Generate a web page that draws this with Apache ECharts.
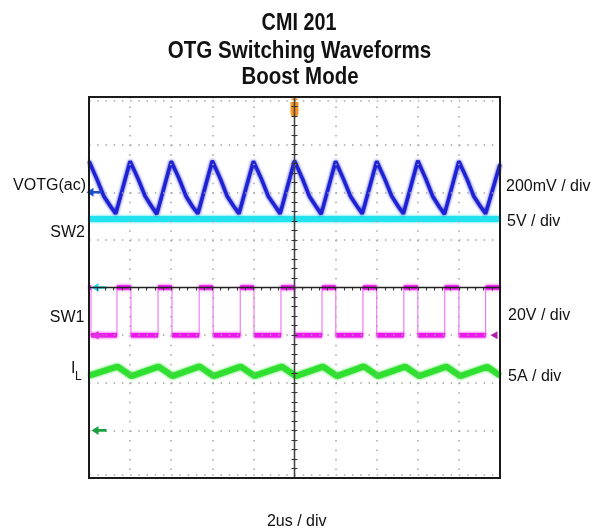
<!DOCTYPE html>
<html><head><meta charset="utf-8">
<script src="https://cdn.jsdelivr.net/npm/echarts@6/dist/echarts.min.js"></script>
<style>html,body{margin:0;padding:0;background:#fff}#c{width:595px;height:531px}</style>
</head><body><div id="c"></div>
<script>
// ---- scope settings ----
const timeMin = -10, timeMax = 10;          // us, trigger at 0 (2us / div)
const divMin = -4, divMax = 4;              // vertical divisions
const titleLines = ['CMI 201', 'OTG Switching Waveforms', 'Boost Mode'];
const chNames = ['VOTG(ac)', 'SW2', 'SW1', 'I'];
const chScaleLabels = ['200mV / div', '5V / div', '20V / div', '5A / div'];
const timeLabel = '2us / div';
const chPerDiv = [200, 5, 20, 5];            // mV, V, V, A per division
const chOffsetDiv = [2, 0, -1, -3];          // ground-reference markers

// ---- VOTG(ac), mV ----
const votgTime = [-10,-9.6,-9.27,-8.95,-8.7, -8,-7.6,-7.27,-6.95,-6.7, -6,-5.6,-5.27,-4.95,-4.7,
  -4,-3.6,-3.27,-2.95,-2.7, -2,-1.6,-1.27,-0.95,-0.7, 0,0.4,0.73,1.05,1.3, 2,2.4,2.73,3.05,3.3,
  4,4.4,4.73,5.05,5.3, 6,6.4,6.73,7.05,7.3, 8,8.4,8.73,9.05,9.3, 10];
const votgMv = [130,52,-18,-60,-90, 130,54,-16,-60,-92, 130,54,-18,-62,-90,
  132,55,-18,-60,-90, 130,54,-18,-58,-90, 132,54,-18,-60,-92, 130,52,-18,-60,-90,
  130,54,-16,-60,-90, 132,54,-18,-62,-92, 130,54,-18,-60,-90, 118];

// ---- SW2, V ----
const sw2Time = [-10, 10];
const sw2V = [7.2, 7.2];

// ---- SW1, V (edge times) ----
const sw1Time = [-10,-9.9,-8.64,-7.96,-6.64,-5.96,-4.64,-3.96,-2.64,-1.97,-0.66,0.02,1.34,2.01,3.33,4.0,5.32,6.0,7.31,8.0,9.3,10];
const sw1V    = [20,0,20,0,20,0,20,0,20,0,20,0,20,0,20,0,20,0,20,0,20,20];

// ---- IL, A ----
const ilTime = [-10,-8.62,-7.94,-6.62,-5.94,-4.62,-3.94,-2.62,-1.94,-0.62,0.06,1.38,2.06,3.38,4.06,5.38,6.06,7.38,8.06,9.38,10];
const ilA    = [5.75,6.7,5.7,6.7,5.7,6.72,5.7,6.7,5.72,6.7,5.7,6.7,5.7,6.72,5.7,6.7,5.7,6.7,5.7,6.68,5.75];

// ---- helpers ----
const toDiv = (vals, ch) => vals.map(v => chOffsetDiv[ch] + v / chPerDiv[ch]);
const pairs = (ts, ds) => ts.map((t, i) => [t, ds[i]]);
const sw1Div = toDiv(sw1V, 2);
const sw1Flats = [];
for (let i = 0; i < sw1Time.length - 1; i++) {
  sw1Flats.push([sw1Time[i], sw1Div[i]], [sw1Time[i + 1], sw1Div[i]], ['-', '-']);
}

const arrowPath = 'path://M0,5 L7,0 L7,3.5 L15,3.5 L15,6.5 L7,6.5 L7,10 Z';
const trigPath = 'path://M1,0 H9 V2 H1 Z M0,4 H10 V15 Q10,21 5,21 Q0,21 0,15 Z';
const colors = { votg: '#1e22d2', sw2: '#22e2ef', sw1: '#ee16ee', sw1edge: '#f57af5', il: '#30e030' };

function arrowMark(ch, color, off) {
  return { coord: [timeMin, chOffsetDiv[ch]], symbol: arrowPath, symbolSize: [15, 9],
           symbolOffset: [off, 0], itemStyle: { color } };
}

const LABEL_FONT = '16px "Liberation Sans", Arial, sans-serif';
const TITLE_FONT = 'bold 23px "Liberation Sans", Arial, sans-serif';
function txt(text, x, y, align, font, extra) {
  return Object.assign({ type: 'text', x, y, silent: true,
    style: { text, font: font || LABEL_FONT, fill: '#111', align: align || 'left', verticalAlign: 'middle' } }, extra || {});
}
const tickStyle = { color: '#333', width: 1 };

const chart = echarts.init(document.getElementById('c'), null, { renderer: 'canvas' });
chart.setOption({
  animation: false,
  backgroundColor: '#fff',
  grid: { left: 89, top: 97, width: 411, height: 381, show: true, z: 10, borderColor: '#1a1a1a', borderWidth: 2, backgroundColor: 'transparent' },
  xAxis: {
    type: 'value', min: timeMin, max: timeMax, interval: 2, z: 5,
    axisLine: { onZero: true, lineStyle: { color: '#222', width: 1.3 } },
    axisTick: { show: true, inside: false, length: 3, lineStyle: tickStyle },
    minorTick: { show: true, splitNumber: 5, length: 3, lineStyle: tickStyle },
    axisLabel: { show: false },
    splitLine: { show: true, lineStyle: { color: '#a4a4a4', width: 1.5, type: [1.5, 8.025] } }
  },
  yAxis: [{
    type: 'value', min: divMin, max: divMax, interval: 1, z: 5,
    axisLine: { onZero: true, lineStyle: { color: '#444', width: 1.3 } },
    axisTick: { show: true, inside: false, length: 3, lineStyle: tickStyle },
    minorTick: { show: true, splitNumber: 5, length: 3, lineStyle: tickStyle },
    axisLabel: { show: false },
    splitLine: { show: true, lineStyle: { color: '#a4a4a4', width: 1.5, type: [1.5, 6.72] } }
  }, {
    type: 'value', min: divMin, max: divMax, interval: 1, z: 5, position: 'left',
    axisLine: { onZero: true, onZeroAxisIndex: 0, lineStyle: { color: '#444', width: 1.3 } },
    axisTick: { show: true, inside: true, length: 3, lineStyle: tickStyle },
    minorTick: { show: true, splitNumber: 5, length: 3, lineStyle: tickStyle },
    axisLabel: { show: false }, splitLine: { show: false }
  }],
  series: [
    { name: 'SW2', type: 'line', data: pairs(sw2Time, toDiv(sw2V, 1)), showSymbol: false, silent: true, z: 3,
      lineStyle: { color: colors.sw2, width: 6, shadowBlur: 3, shadowColor: colors.sw2 },
      markLine: { silent: true, symbol: 'none', label: { show: false },
        lineStyle: { color: '#aaa', width: 1.5, type: [1.5, 6.72] },
        data: [{ yAxis: divMax - 0.07 }, { yAxis: divMin + 0.07 }] },
      markPoint: { silent: true, label: { show: false }, data: [
        { coord: [0, divMax], symbol: trigPath, symbolSize: [8, 19], symbolOffset: [0, 11], itemStyle: { color: '#f7941d' } },
        arrowMark(1, '#22d8f0', 10)
      ] } },
    { name: 'VOTG(ac)', type: 'line', data: pairs(votgTime, toDiv(votgMv, 0)), showSymbol: false, silent: true, z: 4,
      lineStyle: { color: colors.votg, width: 3.5, shadowBlur: 3, shadowColor: colors.votg },
      markPoint: { silent: true, label: { show: false }, data: [arrowMark(0, '#1a50d0', 5)] } },
    { name: 'SW1 edges', type: 'line', step: 'end', data: pairs(sw1Time, sw1Div), showSymbol: false, silent: true, z: 3,
      lineStyle: { color: colors.sw1edge, width: 1.2 } },
    { name: 'SW1', type: 'line', data: sw1Flats, showSymbol: false, silent: true, z: 3, connectNulls: false,
      lineStyle: { color: colors.sw1, width: 4.5, shadowBlur: 3, shadowColor: colors.sw1 },
      markPoint: { silent: true, label: { show: false }, data: [
        arrowMark(2, '#e030e0', 10),
        { coord: [timeMax, chOffsetDiv[2]], symbol: 'triangle', symbolRotate: 90, symbolSize: [8, 7], symbolOffset: [-6, 0], itemStyle: { color: '#b020b0' } },
        { coord: [timeMax, 0], symbol: 'rect', symbolSize: [7, 2], symbolOffset: [-7, 0], itemStyle: { color: '#d020d0' } }
      ] } },
    { name: 'IL', type: 'line', data: pairs(ilTime, toDiv(ilA, 3)), showSymbol: false, silent: true, z: 3,
      lineStyle: { color: colors.il, width: 6, shadowBlur: 3, shadowColor: colors.il },
      markPoint: { silent: true, label: { show: false }, data: [arrowMark(3, '#1aa040', 10)] } }
  ],
  graphic: [
    txt(titleLines[0], 299, 23.3, 'center', TITLE_FONT, { scaleX: 0.86 }),
    txt(titleLines[1], 299.5, 52, 'center', TITLE_FONT, { scaleX: 0.895 }),
    txt(titleLines[2], 300, 77.7, 'center', TITLE_FONT, { scaleX: 0.89 }),
    txt(chNames[0], 86, 186, 'right'),
    txt(chNames[1], 85, 232.5, 'right'),
    txt(chNames[2], 84.5, 317.5, 'right'),
    txt(chNames[3], 71, 369, 'left'),
    txt('L', 75, 376.5, 'left', '12px "Liberation Sans", Arial, sans-serif'),
    txt(chScaleLabels[0], 506, 187, 'left'),
    txt(chScaleLabels[1], 507, 222, 'left'),
    txt(chScaleLabels[2], 508, 315.5, 'left'),
    txt(chScaleLabels[3], 508, 377, 'left'),
    txt(timeLabel, 296.7, 522, 'center')
  ]
});
</script></body></html>
